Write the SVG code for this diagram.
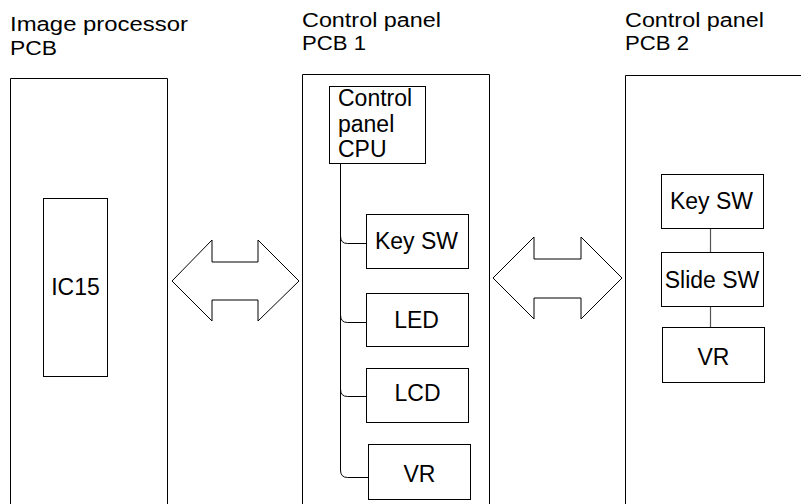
<svg xmlns="http://www.w3.org/2000/svg" width="801" height="504" viewBox="0 0 801 504">
<style>
.box{fill:#fff;stroke:#000;stroke-width:1}
.board{fill:none;stroke:#000;stroke-width:1}
.t{font-family:"Liberation Sans",Arial,sans-serif;font-size:23px;fill:#000}
.h{font-family:"Liberation Sans",Arial,sans-serif;font-size:20px;fill:#000}
.c{text-anchor:middle}
.ln{fill:none;stroke:#000;stroke-width:1}
.gl{fill:none;stroke:#555;stroke-width:1.2}
.arr{fill:#fff;stroke:#000;stroke-width:1}
</style>
<rect width="801" height="504" fill="#fff"/>
<g id="board-ip">
<path class="board" d="M10.5,504 V78.5 H167.5 V504"/>
<text class="h" x="10" y="31" textLength="178" lengthAdjust="spacingAndGlyphs">Image processor</text>
<text class="h" x="10" y="55" textLength="47" lengthAdjust="spacingAndGlyphs">PCB</text>
</g>
<g id="ic15">
<rect class="box" x="43.5" y="198.5" width="64" height="178"/>
<text class="t c" x="75.5" y="295">IC15</text>
</g>
<g id="board-cp1">
<path class="board" d="M302.5,504 V74.5 H489.5 V504"/>
<text class="h" x="302" y="27" textLength="139" lengthAdjust="spacingAndGlyphs">Control panel</text>
<text class="h" x="302" y="50" textLength="64" lengthAdjust="spacingAndGlyphs">PCB 1</text>
</g>
<g id="board-cp2">
<path class="board" d="M625.5,504 V75.5 H801"/>
<text class="h" x="625" y="27" textLength="139" lengthAdjust="spacingAndGlyphs">Control panel</text>
<text class="h" x="625" y="50" textLength="64" lengthAdjust="spacingAndGlyphs">PCB 2</text>
</g>
<g id="connectors">
<path class="ln" d="M340.5,164 V470"/>
<path class="ln" d="M340.5,236 Q340.5,243.5 347.5,243.5 H366"/>
<path class="ln" d="M340.5,315 Q340.5,322.5 347.5,322.5 H366"/>
<path class="ln" d="M340.5,389 Q340.5,396.5 347.5,396.5 H366"/>
<path class="ln" d="M340.5,470 Q340.5,477.5 347.5,477.5 H368"/>
<path class="gl" d="M710.5,228 V252"/>
<path class="gl" d="M710.5,306 V327"/>
<polygon class="arr" points="172,281 212,240 212,262 258,262 258,240 299,281 258,321 258,300 212,300 212,321"/>
<polygon class="arr" points="493,278 534,237 534,259 581,259 581,237 622,278 581,319 581,298 534,298 534,319"/>
</g>
<g id="cpu">
<rect class="box" x="329.5" y="86.5" width="96" height="77"/>
<text class="t" x="338" y="106">Control</text>
<text class="t" x="338" y="132">panel</text>
<text class="t" x="338" y="157">CPU</text>
</g>
<g id="keysw1">
<rect class="box" x="366.5" y="214.5" width="102" height="54"/>
<text class="t c" x="416.5" y="249">Key SW</text>
</g>
<g id="led">
<rect class="box" x="366.5" y="293.5" width="102" height="53"/>
<text class="t c" x="416.5" y="328">LED</text>
</g>
<g id="lcd">
<rect class="box" x="366.5" y="368.5" width="102" height="54"/>
<text class="t c" x="417.5" y="401">LCD</text>
</g>
<g id="vr1">
<rect class="box" x="368.5" y="444.5" width="102" height="55"/>
<text class="t c" x="419.5" y="482">VR</text>
</g>
<g id="keysw2">
<rect class="box" x="661.5" y="174.5" width="102" height="54"/>
<text class="t c" x="711.5" y="209">Key SW</text>
</g>
<g id="slidesw">
<rect class="box" x="661.5" y="252.5" width="102" height="54"/>
<text class="t c" x="712" y="288">Slide SW</text>
</g>
<g id="vr2">
<rect class="box" x="662.5" y="327.5" width="102" height="55"/>
<text class="t c" x="713.5" y="365">VR</text>
</g>
</svg>
